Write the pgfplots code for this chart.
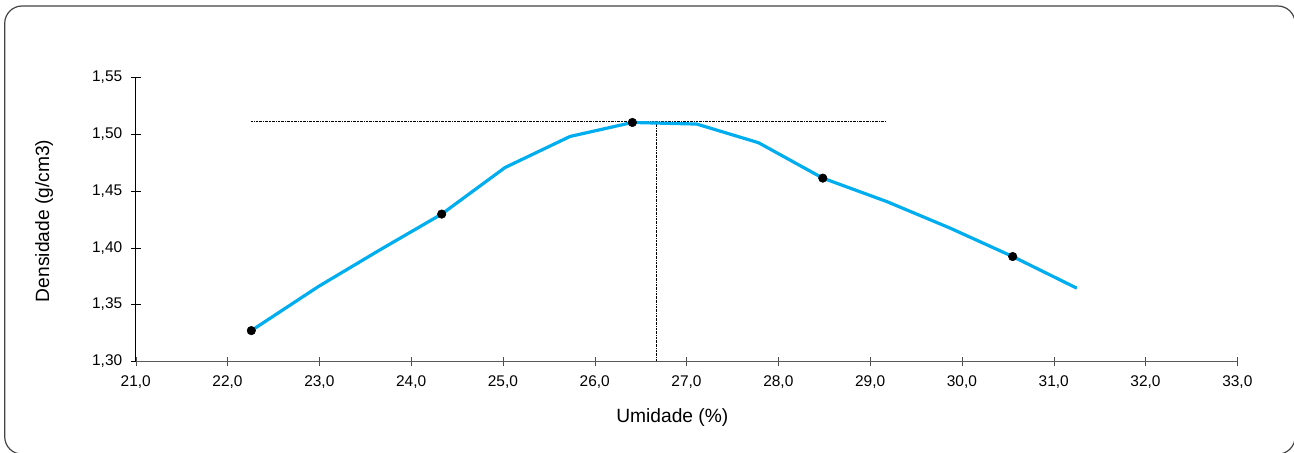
\documentclass[border=0pt]{standalone}
\usepackage{pgfplots}
\pgfplotsset{compat=1.18}
\usepackage{fontspec}
\setmainfont{Liberation Sans}
\definecolor{linecyan}{HTML}{00AEEF}
\definecolor{framegray}{HTML}{444444}
\begin{document}
\begin{tikzpicture}
\useasboundingbox (-101.8pt,-68.6pt) rectangle (868.7pt,271.1pt);
\draw[framegray, line width=0.9pt, rounded corners=13pt] (-98.25pt,-69.5pt) rectangle (869.5pt,266.6pt);
\begin{axis}[
  at={(0pt,0pt)}, anchor=south west,
  scale only axis, width=826.2pt, height=213.4pt,
  xmin=21, xmax=33, ymin=1.30, ymax=1.55,
  axis lines=left, axis line style={-},
  x axis line style={black!65},
  y axis line style={black},
  clip=false,
  xtick={21,22,23,24,25,26,27,28,29,30,31,32,33},
  ytick={1.30,1.35,1.40,1.45,1.50,1.55},
  tick align=center,
  major tick length=7.2pt,
  xtick style={black!70},
  ytick style={black},
  /pgf/number format/assume math mode=true,
  xticklabel style={font=\fontsize{11.6}{13}\selectfont, yshift=-3.4pt, /pgf/number format/.cd, fixed, fixed zerofill, precision=1, use comma},
  yticklabel style={font=\fontsize{11.6}{13}\selectfont, xshift=-3pt, /pgf/number format/.cd, fixed, fixed zerofill, precision=2, use comma},
  scaled ticks=false,
  xlabel={Umidade (\%)},
  ylabel={Densidade (g/cm3)},
  xlabel style={font=\fontsize{14.4}{16}\selectfont, at={(axis description cs:0.4871,-0.1986)}, anchor=center},
  ylabel style={font=\fontsize{14.4}{16}\selectfont, at={(axis description cs:-0.0832,0.4938)}, anchor=center},
]
\addplot[black, line width=0.55pt, dash pattern=on 1.5pt off 0.7pt on 0.4pt off 0.7pt, no marks] coordinates {(22.259,1.5113) (29.17,1.5113)};
\addplot[black, line width=0.55pt, dash pattern=on 1.5pt off 0.7pt on 0.4pt off 0.7pt, no marks] coordinates {(26.67,1.5113) (26.67,1.30)};
\addplot[linecyan, line width=2.4pt, no marks, line join=round] coordinates {
(22.259,1.3271) (22.989,1.3658) (23.661,1.3981) (24.333,1.4295) (25.023,1.4704)
(25.731,1.4977) (26.410,1.5100) (27.111,1.5086) (27.784,1.4922) (28.484,1.4611)
(29.181,1.4405) (29.870,1.4172) (30.553,1.3922) (31.251,1.3644)
};
\addplot[only marks, mark=*, mark size=3.2pt, black] coordinates {
(22.259,1.3271) (24.333,1.4295) (26.410,1.5100) (28.484,1.4611) (30.553,1.3922)
};
\end{axis}
\end{tikzpicture}
\end{document}
